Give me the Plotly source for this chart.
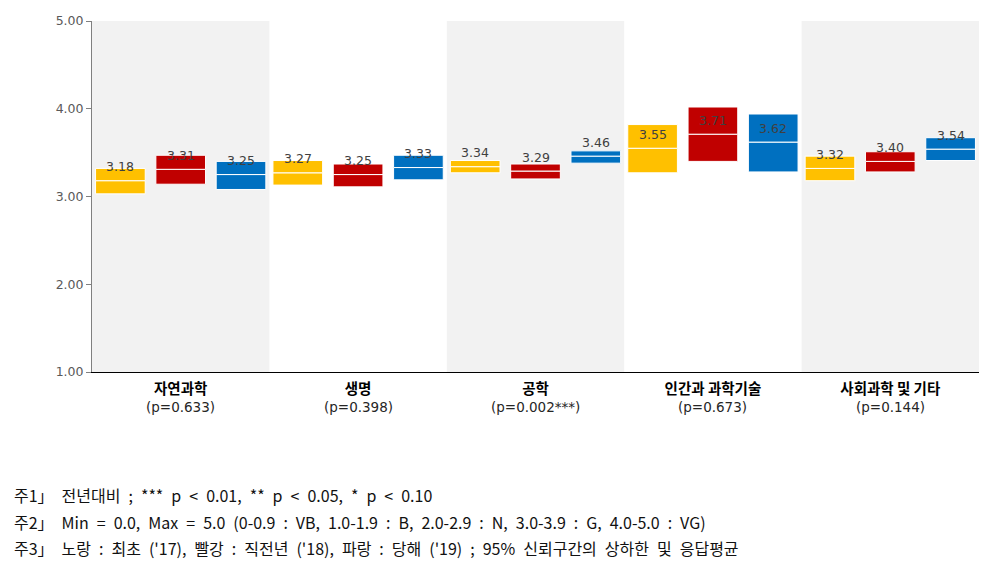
import plotly.graph_objects as go

categories = ["자연과학", "생명", "공학", "인간과 과학기술", "사회과학 및 기타"]
p_values = ["(p=0.633)", "(p=0.398)", "(p=0.002***)", "(p=0.673)", "(p=0.144)"]

# yellow: first year ('17), red: previous year ('18), blue: current year ('19)
mean_y = [3.18, 3.27, 3.34, 3.55, 3.32]
low_y = [3.03, 3.13, 3.27, 3.27, 3.18]
high_y = [3.32, 3.41, 3.41, 3.82, 3.46]

mean_r = [3.31, 3.25, 3.29, 3.71, 3.40]
low_r = [3.14, 3.11, 3.20, 3.40, 3.28]
high_r = [3.47, 3.37, 3.37, 4.02, 3.51]

mean_b = [3.25, 3.33, 3.46, 3.62, 3.54]
low_b = [3.08, 3.19, 3.38, 3.28, 3.41]
high_b = [3.40, 3.47, 3.52, 3.94, 3.67]

y_ticks = [1, 2, 3, 4, 5]

series = [
    ("노랑", "#FFC000", mean_y, low_y, high_y, -0.34),
    ("빨강", "#C00000", mean_r, low_r, high_r, 0.0),
    ("파랑", "#0070C0", mean_b, low_b, high_b, 0.34),
]

fig = go.Figure()
idx = list(range(len(categories)))
annotations = []
for name, color, mean, low, high, off in series:
    xs = [i + off for i in idx]
    fig.add_trace(go.Bar(
        x=xs, base=low, y=[m - l for m, l in zip(mean, low)],
        width=0.28, marker=dict(color=color, line=dict(color="white", width=1)),
        showlegend=False, hoverinfo="skip"))
    fig.add_trace(go.Bar(
        x=xs, base=mean, y=[h - m for h, m in zip(high, mean)],
        width=0.28, marker=dict(color=color, line=dict(color="white", width=1)),
        showlegend=False, hoverinfo="skip"))
    for x, m in zip(xs, mean):
        annotations.append(dict(x=x, y=m, xref="x", yref="y", text=f"{m:.2f}",
                                showarrow=False, yshift=14,
                                font=dict(family="DejaVu Sans", size=12.5, color="#404040")))

shapes = []
for i in idx:
    if i % 2 == 0:
        shapes.append(dict(type="rect", xref="x", yref="y", x0=i - 0.5, x1=i + 0.5,
                           y0=1, y1=5, fillcolor="#F2F2F2", line=dict(width=0), layer="below"))

for i, p in zip(idx, p_values):
    annotations.append(dict(x=i, y=0, xref="x", yref="paper", text=p, showarrow=False,
                            yanchor="middle", yshift=-35,
                            font=dict(family="DejaVu Sans", size=13.5, color="#262626")))

SP = "\u2002"
notes = [
    "주1」 전년대비 ; *** p < 0.01, ** p < 0.05, * p < 0.10",
    "주2」 Min = 0.0, Max = 5.0 (0-0.9 : VB, 1.0-1.9 : B, 2.0-2.9 : N, 3.0-3.9 : G, 4.0-5.0 : VG)",
    "주3」 노랑 : 최초 ('17), 빨강 : 직전년 ('18), 파랑 : 당해 ('19) ; 95% 신뢰구간의 상하한 및 응답평균",
]
note_shift = [-123, -150, -176]
for t, ys in zip(notes, note_shift):
    annotations.append(dict(x=0, y=0, xref="paper", yref="paper", text=t.replace(" ", SP),
                            showarrow=False, xanchor="left", yanchor="middle",
                            xshift=-80, yshift=ys,
                            font=dict(family="Liberation Sans Narrow, Noto Sans CJK KR",
                                      size=16, color="#111111")))

fig.update_layout(
    width=976, height=551,
    margin=dict(l=84, r=5, t=13, b=187),
    plot_bgcolor="white", paper_bgcolor="white",
    barmode="overlay",
    shapes=shapes, annotations=annotations,
    xaxis=dict(range=[-0.5, 4.5], tickvals=idx,
               ticktext=[f"<b>{c}</b>" for c in categories],
               tickfont=dict(family="Noto Sans CJK KR", size=14.5, color="#000000"),
               showgrid=False, zeroline=False, showline=True, linecolor="#000000",
               linewidth=1, ticks="", ticklabelstandoff=4),
    yaxis=dict(range=[1, 5], tickvals=y_ticks, tickformat=".2f",
               tickfont=dict(family="DejaVu Sans", size=12.5, color="#595959"),
               showgrid=False, zeroline=False, showline=True, linecolor="#808080",
               linewidth=1, ticks="outside", ticklen=5, tickcolor="#808080"),
)

fig.write_html("out.html")
